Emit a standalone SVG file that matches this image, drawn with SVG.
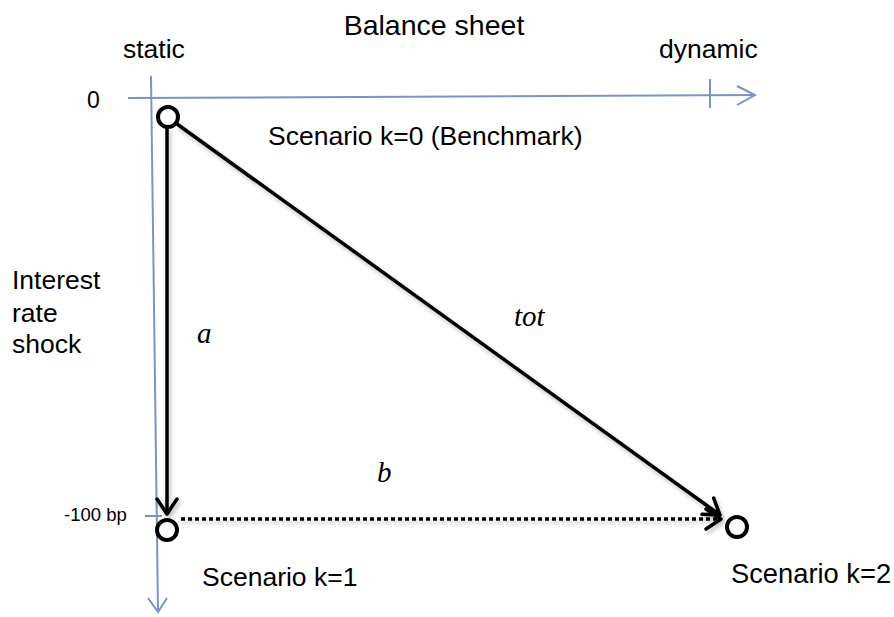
<svg xmlns="http://www.w3.org/2000/svg" width="894" height="617" viewBox="0 0 894 617">
<style>
text{font-family:"Liberation Sans",Arial,sans-serif;fill:#000}
.lbl{font-size:26.5px}
.var{font-family:"Liberation Serif","Times New Roman",serif;font-style:italic;font-size:29px}
.axis{stroke:#7b93c6;stroke-width:2;fill:none}
.node{fill:#fff;stroke:#000;stroke-width:4}
.conn{stroke:#000;stroke-width:3.5;fill:none}
</style>
<defs>
<marker id="arr" markerUnits="userSpaceOnUse" markerWidth="22" markerHeight="26" refX="17" refY="12" orient="auto" viewBox="0 0 22 26">
<path d="M2,2 L17,12 L2,22" fill="none" stroke="#000" stroke-width="3.5" stroke-linecap="round" stroke-linejoin="round"/>
</marker>
<filter id="sh" x="-10%" y="-10%" width="120%" height="120%">
<feDropShadow dx="2" dy="3" stdDeviation="2" flood-color="#000" flood-opacity="0.25"/>
</filter>
</defs>
<g id="axes">
<path class="axis" d="M128,98 L755,95"/>
<path class="axis" d="M737,86 L755,95 L737,105"/>
<path class="axis" d="M710,79 L710,108"/>
<path class="axis" d="M151,76 L158,612"/>
<path class="axis" d="M148,598 L158,612 L167,598"/>
<path class="axis" d="M145,516 L162,516"/>
</g>
<g id="labels">
<text x="434" y="35" text-anchor="middle" style="font-size:28.5px">Balance sheet</text>
<text class="lbl" x="123" y="58">static</text>
<text class="lbl" x="659" y="58">dynamic</text>
<text x="87" y="108" style="font-size:23px">0</text>
<text x="64" y="521" style="font-size:18.5px">-100 bp</text>
<text class="lbl" x="12" y="289">Interest</text>
<text class="lbl" x="12" y="322">rate</text>
<text class="lbl" x="12" y="353">shock</text>
</g>
<g id="connectors" filter="url(#sh)">
<line class="conn" x1="167" y1="128" x2="167" y2="514" marker-end="url(#arr)"/>
<line class="conn" x1="177" y1="124" x2="720" y2="515" marker-end="url(#arr)"/>
<line class="conn" x1="181" y1="519" x2="721" y2="519" stroke-dasharray="4 3" stroke-width="4" marker-end="url(#arr)"/>
</g>
<g id="edge-labels">
<text class="var" x="197" y="343">a</text>
<text class="var" x="514" y="326">tot</text>
<text class="var" x="377" y="482">b</text>
</g>
<g id="node-k0">
<circle class="node" cx="168" cy="117" r="10"/>
<text class="lbl" x="268" y="145">Scenario k=0 (Benchmark)</text>
</g>
<g id="node-k1">
<circle class="node" cx="167" cy="530" r="10"/>
<text class="lbl" x="202" y="586">Scenario k=1</text>
</g>
<g id="node-k2">
<circle class="node" cx="737" cy="527" r="10"/>
<text class="lbl" x="731" y="583" style="font-size:27.3px">Scenario k=2</text>
</g>
</svg>
